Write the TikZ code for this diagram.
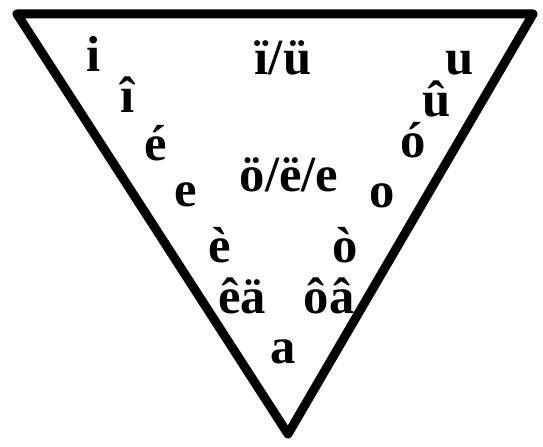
\documentclass[tikz,border=0pt]{standalone}
\usepackage{fontspec}
\setmainfont{Liberation Serif}
\usetikzlibrary{positioning}

\begin{document}
\begin{tikzpicture}[
  x=0.025cm, y=-0.025cm,
  edge/.style  = {draw=black, line width=6.4pt, line join=round},
  vowel/.style = {anchor=base, inner sep=0pt,
                  font=\bfseries\fontsize{36}{42}\selectfont}
]
\useasboundingbox (0,0) rectangle (543,446);

% vowel triangle
\coordinate (tl) at (17,14);
\coordinate (tr) at (533,14);
\coordinate (bot) at (288,434);
\draw[edge] (tl) -- (tr) -- (bot) -- cycle;

% front vowels
\node[vowel] (vi)  at (94,72)   {i};
\node[vowel] (vic) at (128,112) {î};
\node[vowel] (vea) at (156,160) {é};
\node[vowel] (ve)  at (186,206) {e};
\node[vowel] (veg) at (220,262) {è};
\node[vowel] (vea2) at (242,313) {êä};

% central vowels
\node[vowel] (vii) at (283,75)  {ï/ü};
\node[vowel] (voe) at (289,191) {ö/ë/e};
\node[vowel] (va)  at (283,363) {a};

% back vowels
\node[vowel] (vu)  at (460,75)  {u};
\node[vowel] (vuc) at (437,117) {û};
\node[vowel] (voa) at (413,157) {ó};
\node[vowel] (vo)  at (382,207) {o};
\node[vowel] (vog) at (345,262) {ò};
\node[vowel] (voc) at (329,313) {ôâ};
\end{tikzpicture}
\end{document}
